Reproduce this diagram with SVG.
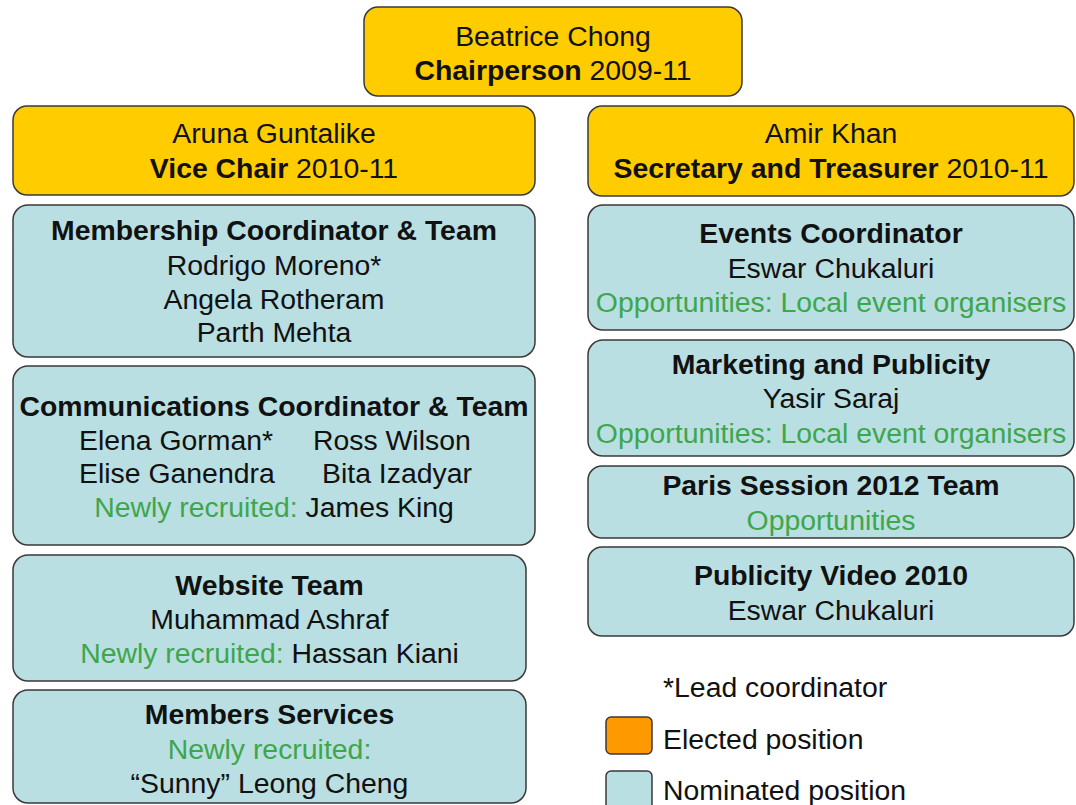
<svg xmlns="http://www.w3.org/2000/svg" width="1076" height="805" viewBox="0 0 1076 805">
<style>
text{font-family:"Liberation Sans",Arial,sans-serif;font-size:28.4px;fill:#111;text-anchor:middle}
.b{font-weight:bold}
.g{fill:#3ea64b}
.l{text-anchor:start}
.el{fill:#ffcc00;stroke:#3a3a3a;stroke-width:1.5}
.nm{fill:#b9dfe2;stroke:#3a3a3a;stroke-width:1.5}
</style>
<rect width="1076" height="805" fill="#fff"/>
<g id="connectors"></g>
<g id="chair">
<rect class="el" x="364" y="7" width="378" height="89" rx="14"/>
<text x="553" y="46">Beatrice Chong</text>
<text x="553" y="80"><tspan class="b">Chairperson</tspan> 2009-11</text>
</g>
<g id="vice-chair">
<rect class="el" x="13" y="106" width="522" height="89" rx="14"/>
<text x="274" y="143">Aruna Guntalike</text>
<text x="274" y="178"><tspan class="b">Vice Chair</tspan> 2010-11</text>
</g>
<g id="secretary">
<rect class="el" x="588" y="106" width="486" height="90" rx="14"/>
<text x="831" y="143">Amir Khan</text>
<text x="831" y="178"><tspan class="b">Secretary and Treasurer</tspan> 2010-11</text>
</g>
<g id="membership">
<rect class="nm" x="13" y="205" width="522" height="152" rx="15"/>
<text class="b" x="274" y="240">Membership Coordinator &amp; Team</text>
<text x="274" y="275">Rodrigo Moreno*</text>
<text x="274" y="309">Angela Rotheram</text>
<text x="274" y="342">Parth Mehta</text>
</g>
<g id="communications">
<rect class="nm" x="13" y="366" width="522" height="179" rx="15"/>
<text class="b" x="274" y="416">Communications Coordinator &amp; Team</text>
<text class="l" x="79" y="449.5">Elena Gorman*</text>
<text class="l" x="313" y="449.5">Ross Wilson</text>
<text class="l" x="79" y="483">Elise Ganendra</text>
<text class="l" x="322" y="483">Bita Izadyar</text>
<text x="274" y="517"><tspan class="g">Newly recruited:</tspan> James King</text>
</g>
<g id="website">
<rect class="nm" x="13" y="555" width="513" height="126" rx="15"/>
<text class="b" x="269.5" y="594.5">Website Team</text>
<text x="269.5" y="629">Muhammad Ashraf</text>
<text x="269.5" y="663"><tspan class="g">Newly recruited:</tspan> Hassan Kiani</text>
</g>
<g id="members-services">
<rect class="nm" x="13" y="690" width="513" height="113" rx="15"/>
<text class="b" x="269.5" y="724">Members Services</text>
<text class="g" x="269.5" y="759">Newly recruited:</text>
<text x="269.5" y="793">“Sunny” Leong Cheng</text>
</g>
<g id="events">
<rect class="nm" x="588" y="205" width="486" height="125" rx="15"/>
<text class="b" x="831" y="243">Events Coordinator</text>
<text x="831" y="278">Eswar Chukaluri</text>
<text class="g" x="831" y="312">Opportunities: Local event organisers</text>
</g>
<g id="marketing">
<rect class="nm" x="588" y="340" width="486" height="116" rx="15"/>
<text class="b" x="831" y="373.5">Marketing and Publicity</text>
<text x="831" y="408">Yasir Saraj</text>
<text class="g" x="831" y="443">Opportunities: Local event organisers</text>
</g>
<g id="paris">
<rect class="nm" x="588" y="466" width="486" height="72" rx="14"/>
<text class="b" x="831" y="495">Paris Session 2012 Team</text>
<text class="g" x="831" y="530">Opportunities</text>
</g>
<g id="publicity-video">
<rect class="nm" x="588" y="547" width="486" height="89" rx="14"/>
<text class="b" x="831" y="585">Publicity Video 2010</text>
<text x="831" y="620">Eswar Chukaluri</text>
</g>
<g id="legend">
<text class="l" x="663" y="696.5">*Lead coordinator</text>
<rect x="606" y="717" width="46" height="37" rx="5" fill="#ff9900" stroke="#3a3a3a" stroke-width="1.5"/>
<text class="l" x="663" y="748.5">Elected position</text>
<rect x="606" y="771" width="46" height="45" rx="5" fill="#b9dfe2" stroke="#3a3a3a" stroke-width="1.5"/>
<text class="l" x="663" y="800">Nominated position</text>
</g>
</svg>
